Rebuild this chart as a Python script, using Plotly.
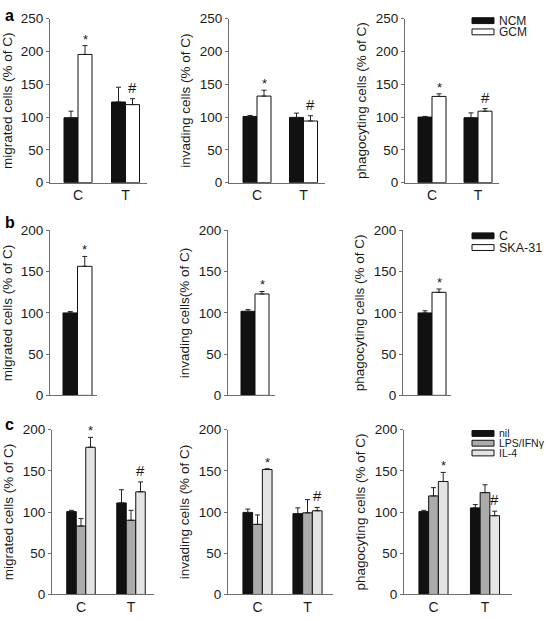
import plotly.graph_objects as go

W, H = 546, 621

categories = ["C", "T"]

# ---------------- Row a : NCM vs GCM ----------------
a_series = ["NCM", "GCM"]
a_mig_ncm = [99, 123]
a_mig_ncm_sem = [10, 22.5]
a_mig_gcm = [195.5, 119]
a_mig_gcm_sem = [13.5, 9]

a_inv_ncm = [101, 99.5]
a_inv_ncm_sem = [1.5, 6.5]
a_inv_gcm = [132, 94]
a_inv_gcm_sem = [9, 8]

a_pha_ncm = [100, 99]
a_pha_ncm_sem = [1, 7.4]
a_pha_gcm = [131.5, 109]
a_pha_gcm_sem = [4, 4]

# ---------------- Row b : C vs SKA-31 ----------------
b_series = ["C", "SKA-31"]
b_mig_c = [100]
b_mig_c_sem = [1.6]
b_mig_ska = [156.5]
b_mig_ska_sem = [12]

b_inv_c = [102]
b_inv_c_sem = [2]
b_inv_ska = [123]
b_inv_ska_sem = [3]

b_pha_c = [100]
b_pha_c_sem = [2.6]
b_pha_ska = [125]
b_pha_ska_sem = [4]

# ---------------- Row c : nil, LPS/IFNγ, IL-4 ----------------
c_series = ["nil", "LPS/IFNγ", "IL-4"]
c_mig_nil = [100.5, 111]
c_mig_nil_sem = [1.5, 16]
c_mig_lps = [83, 90]
c_mig_lps_sem = [9, 12]
c_mig_il4 = [178.5, 124.5]
c_mig_il4_sem = [12, 12]

c_inv_nil = [99.5, 98]
c_inv_nil_sem = [4, 7]
c_inv_lps = [85, 99]
c_inv_lps_sem = [11.5, 16]
c_inv_il4 = [151.5, 101.5]
c_inv_il4_sem = [1, 4]

c_pha_nil = [100.5, 105]
c_pha_nil_sem = [1.5, 4]
c_pha_lps = [119.5, 123.5]
c_pha_lps_sem = [10, 9.5]
c_pha_il4 = [137, 95.5]
c_pha_il4_sem = [11, 5.5]

# significance marks: (series index, category index, symbol)
a_marks = [(1, 0, "*"), (1, 1, "#")]
b_marks = [(1, 0, "*")]
c_marks = [(2, 0, "*"), (2, 1, "#")]

y_titles_a = ["migrated cells (% of C)", "invading cells (% of C)", "phagocyting cells (% of C)"]
y_titles_b = ["migrated cells (% of C)", "invading cells(% of C)", "phagocyting cells (% of C)"]
y_titles_c = ["migrated cells (% of C)", "invading cells (% of C)", "phagocyting cells (% of C)"]

# ---------------- styling ----------------
two_colors = ["#111111", "#ffffff"]
three_colors = ["#111111", "#ababab", "#e4e4e4"]
AXC = "#6e6e6e"
TXT = "#1a1a1a"
FONT = "Liberation Sans, Arial, sans-serif"

# panel geometry in pixels
rows = [
    dict(ybot=180, ytop=12, ymax=250, series=a_series, colors=two_colors, marks=a_marks,
         titles=y_titles_a, show_x=True,
         panels=[
             dict(x0=50, x1=147, c=[78, 125.5], bw=14,
                  data=[(a_mig_ncm, a_mig_ncm_sem), (a_mig_gcm, a_mig_gcm_sem)]),
             dict(x0=229, x1=325, c=[257, 303.5], bw=14,
                  data=[(a_inv_ncm, a_inv_ncm_sem), (a_inv_gcm, a_inv_gcm_sem)]),
             dict(x0=405, x1=499, c=[432, 478], bw=14,
                  data=[(a_pha_ncm, a_pha_ncm_sem), (a_pha_gcm, a_pha_gcm_sem)]),
         ]),
    dict(ybot=398, ytop=229, ymax=200, series=b_series, colors=two_colors, marks=b_marks,
         titles=y_titles_b, show_x=False,
         panels=[
             dict(x0=50, x1=97, c=[77.5], bw=14.5,
                  data=[(b_mig_c, b_mig_c_sem), (b_mig_ska, b_mig_ska_sem)]),
             dict(x0=228, x1=275, c=[255], bw=14,
                  data=[(b_inv_c, b_inv_c_sem), (b_inv_ska, b_inv_ska_sem)]),
             dict(x0=403, x1=451, c=[432], bw=14,
                  data=[(b_pha_c, b_pha_c_sem), (b_pha_ska, b_pha_ska_sem)]),
         ]),
    dict(ybot=602, ytop=433, ymax=200, series=c_series, colors=three_colors, marks=c_marks,
         titles=y_titles_c, show_x=True,
         panels=[
             dict(x0=52, x1=154, c=[81, 131], bw=9.5,
                  data=[(c_mig_nil, c_mig_nil_sem), (c_mig_lps, c_mig_lps_sem), (c_mig_il4, c_mig_il4_sem)]),
             dict(x0=228, x1=333, c=[257.5, 307.5], bw=9.7,
                  data=[(c_inv_nil, c_inv_nil_sem), (c_inv_lps, c_inv_lps_sem), (c_inv_il4, c_inv_il4_sem)]),
             dict(x0=404, x1=512, c=[433.5, 485], bw=9.7,
                  data=[(c_pha_nil, c_pha_nil_sem), (c_pha_lps, c_pha_lps_sem), (c_pha_il4, c_pha_il4_sem)]),
         ]),
]

fig = go.Figure()
layout = dict(
    width=W, height=H, autosize=False,
    margin=dict(l=0, r=0, t=0, b=0),
    paper_bgcolor="white", plot_bgcolor="white",
    barmode="overlay", showlegend=False,
    font=dict(family=FONT, size=13, color=TXT),
)
annotations = []
shapes = []

k = 0
for row in rows:
    n = len(row["series"])
    for pi, p in enumerate(row["panels"]):
        k += 1
        xa = "x" if k == 1 else f"x{k}"
        ya = "y" if k == 1 else f"y{k}"
        s = (p["c"][1] - p["c"][0]) if len(p["c"]) > 1 else 47.0
        r0 = (p["x0"] - p["c"][0]) / s
        r1 = (p["x1"] - p["c"][0]) / s
        w = p["bw"] / s
        ncat = len(p["c"])
        xs = list(range(ncat))
        for si, (vals, sem) in enumerate(p["data"]):
            off = -n * w / 2 + si * w
            fig.add_trace(go.Bar(
                x=xs, y=vals, width=w, offset=off,
                name=row["series"][si],
                marker=dict(color=row["colors"][si], line=dict(color="#111111", width=1)),
                error_y=dict(type="data", symmetric=False, array=sem,
                             arrayminus=[0] * len(sem), color="#222222",
                             thickness=1, width=2.5),
                xaxis=xa, yaxis=ya,
            ))
        for (si, ci, sym) in row["marks"]:
            vals, sem = p["data"][si]
            off = -n * w / 2 + si * w
            annotations.append(dict(
                x=ci + off + w / 2, y=vals[ci] + sem[ci], xref=xa, yref=ya,
                text=sym, showarrow=False, yanchor="bottom",
                yshift=(-3 if sym == "*" else 1),
                font=dict(size=(13 if sym == "*" else 15), color=TXT, family=FONT),
            ))
        xkey = "xaxis" if k == 1 else f"xaxis{k}"
        ykey = "yaxis" if k == 1 else f"yaxis{k}"
        layout[xkey] = dict(
            domain=[p["x0"] / W, p["x1"] / W], anchor=ya, range=[r0, r1],
            tickvals=xs, ticktext=categories[:ncat], showticklabels=row["show_x"],
            showline=True, linecolor=AXC, linewidth=1, ticks="",
            showgrid=False, zeroline=False, fixedrange=True,
            tickfont=dict(size=14, color=TXT, family=FONT),
        )
        layout[ykey] = dict(
            domain=[1 - row["ybot"] / H, 1 - row["ytop"] / H], anchor=xa,
            range=[0, row["ymax"]], dtick=50, tick0=0,
            showline=True, linecolor=AXC, linewidth=1,
            ticks="outside", ticklen=3, tickcolor=AXC,
            showgrid=False, zeroline=False, fixedrange=True,
            tickfont=dict(size=13.5, color=TXT, family=FONT),
            title=dict(text=row["titles"][pi], standoff=6,
                       font=dict(size=13.5, color=TXT, family=FONT)),
        )

# panel letters
for letter, ypx in [("a", 9), ("b", 221), ("c", 428)]:
    annotations.append(dict(x=3 / W, y=1 - ypx / H, xref="paper", yref="paper",
                            text=f"<b>{letter}</b>", showarrow=False,
                            xanchor="left", yanchor="middle",
                            font=dict(size=16, color="#000000", family=FONT)))

# legends (swatch + label) drawn in paper space
legend_specs = [
    (a_series, two_colors, [14, 25.5], 12),
    (b_series, two_colors, [234.5, 246.5], 12.5),
    (c_series, three_colors, [437, 447, 457], 10.5),
]
for names, cols, ys, fs in legend_specs:
    for nm, col, yc in zip(names, cols, ys):
        shapes.append(dict(type="rect", xref="paper", yref="paper",
                           x0=472 / W, x1=494 / W,
                           y0=1 - (yc + 3) / H, y1=1 - (yc - 3) / H,
                           fillcolor=col, line=dict(color="#111111", width=1)))
        annotations.append(dict(x=498 / W, y=1 - yc / H, xref="paper", yref="paper",
                                text=nm, showarrow=False, xanchor="left", yanchor="middle",
                                borderpad=0,
                                font=dict(size=fs, color=TXT, family=FONT)))

layout["annotations"] = annotations
layout["shapes"] = shapes
fig.update_layout(**layout)
fig.write_html("out.html",
               config={"displayModeBar": False},
               post_script="document.body.style.margin='0';document.body.style.padding='0';")
